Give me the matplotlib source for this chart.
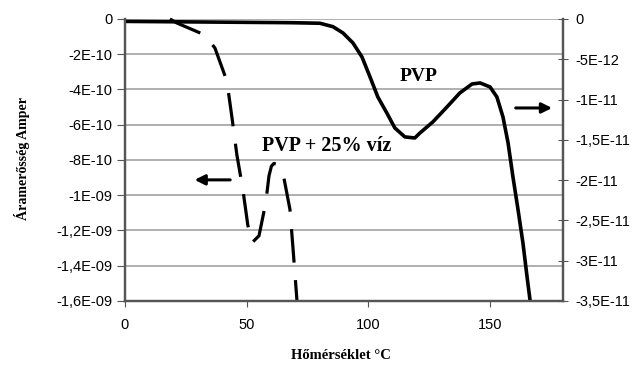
import matplotlib
matplotlib.use('Agg')
import matplotlib.pyplot as plt
from matplotlib.ticker import FixedLocator

# -----------------------------------------------------------------------------------------------------------
# data

# PVP + 25% viz (left axis, dashed)
viz_temp = [18.5, 21.4, 32.9, 37.0, 41.9, 44.0, 46.0, 48.5, 50.5, 52.2, 55.1, 57.9, 59.2, 60.2, 61.2, 62.6,
            64.0, 65.3, 67.8, 69.0, 70.7]
viz_curr = [0, -2.3e-11, -9.1e-11, -1.65e-10, -3.52e-10, -5.6e-10, -7.7e-10, -9.7e-10, -1.17e-9, -1.27e-9,
            -1.23e-9, -1.04e-9, -8.9e-10, -8.35e-10, -8.2e-10, -8.25e-10, -8.5e-10, -9.0e-10, -1.08e-9,
            -1.29e-9, -1.6e-9]

# PVP (right axis, solid)
pvp_temp = [0, 67.8, 80.1, 85.5, 89.6, 93.7, 97.4, 100.7, 103.9, 107.6, 110.9, 115.0, 119.1, 121.2, 126.5,
            132.3, 137.6, 142.6, 145.9, 150.0, 152.8, 155.3, 157.4, 159.4, 161.5, 163.5, 165.2, 166.4]
pvp_curr = [-3.0e-13, -4.6e-13, -5.3e-13, -9.6e-13, -1.74e-12, -2.98e-12, -4.72e-12, -7.20e-12, -9.68e-12,
            -1.167e-11, -1.353e-11, -1.464e-11, -1.477e-11, -1.415e-11, -1.278e-11, -1.092e-11, -9.18e-12,
            -8.07e-12, -7.94e-12, -8.44e-12, -9.68e-12, -1.216e-11, -1.539e-11, -1.961e-11, -2.370e-11,
            -2.780e-11, -3.202e-11, -3.487e-11]

x_ticks = [0, 50, 100, 150]
left_ticks = [0, -2e-10, -4e-10, -6e-10, -8e-10, -1e-9, -1.2e-9, -1.4e-9, -1.6e-9]
left_labels = ['0', '-2E-10', '-4E-10', '-6E-10', '-8E-10', '-1E-09', '-1,2E-09', '-1,4E-09', '-1,6E-09']
right_ticks = [0, -5e-12, -1e-11, -1.5e-11, -2e-11, -2.5e-11, -3e-11, -3.5e-11]
right_labels = ['0', '-5E-12', '-1E-11', '-1,5E-11', '-2E-11', '-2,5E-11', '-3E-11', '-3,5E-11']

# -----------------------------------------------------------------------------------------------------------
# plot

plt.rcParams['font.family'] = ['Liberation Sans', 'DejaVu Sans']

fig = plt.figure(figsize=(6.37, 3.72), dpi=100)
ax = fig.add_axes([0.196, 0.191, 0.688, 0.758])
ax2 = ax.twinx()

spine_col = '#555555'
grid_col = '#9a9a9a'

ax.set_xlim(0, 180)
ax.set_ylim(-1.6e-9, 0)
ax2.set_ylim(-3.5e-11, 0)

ax.yaxis.set_major_locator(FixedLocator(left_ticks))
ax.set_yticklabels(left_labels)
ax2.yaxis.set_major_locator(FixedLocator(right_ticks))
ax2.set_yticklabels(right_labels)
ax.set_xticks(x_ticks)

ax.grid(axis='y', color=grid_col, linewidth=1.1)
ax.set_axisbelow(True)

for a in (ax, ax2):
    a.spines['top'].set_visible(False)
    for s in ('left', 'right', 'bottom'):
        a.spines[s].set_color(spine_col)
        a.spines[s].set_linewidth(1.6)

ax.tick_params(axis='y', direction='out', length=6, color=spine_col, labelsize=10.5, pad=3)
ax.tick_params(axis='x', direction='out', length=4, color=spine_col, labelsize=10.5, pad=8)
ax2.tick_params(axis='y', direction='inout', length=7, color=spine_col, labelsize=10.5, pad=5)

ax.plot(viz_temp, viz_curr, color='black', linewidth=2.3, dashes=(10.5, 5.5), solid_capstyle='butt',
        clip_on=False)
ax2.plot(pvp_temp, pvp_curr, color='black', linewidth=2.6, solid_joinstyle='round')

serif = ['Liberation Serif', 'DejaVu Serif']
ax.text(120.8, -3.29e-10, 'PVP', family=serif, fontweight='bold', fontsize=14, ha='center', va='center')
ax.text(83, -7.2e-10, 'PVP + 25% víz', family=serif, fontweight='bold', fontsize=14.5, ha='center', va='center')

ax.annotate('', xy=(27.5, -9.13e-10), xytext=(44.4, -9.13e-10),
            arrowprops=dict(arrowstyle='-|>', color='black', lw=2.2, mutation_scale=15))
ax.annotate('', xy=(176.6, -5.05e-10), xytext=(159.4, -5.05e-10),
            arrowprops=dict(arrowstyle='-|>', color='black', lw=2.2, mutation_scale=15))

fig.text(0.035, 0.575, 'Áramerősség Amper', family=serif, fontweight='bold', fontsize=10,
         rotation=90, ha='center', va='center')
fig.text(0.535, 0.045, 'Hőmérséklet °C', family=serif, fontweight='bold', fontsize=10.5,
         ha='center', va='center')

fig.savefig('out.png', dpi=100)
